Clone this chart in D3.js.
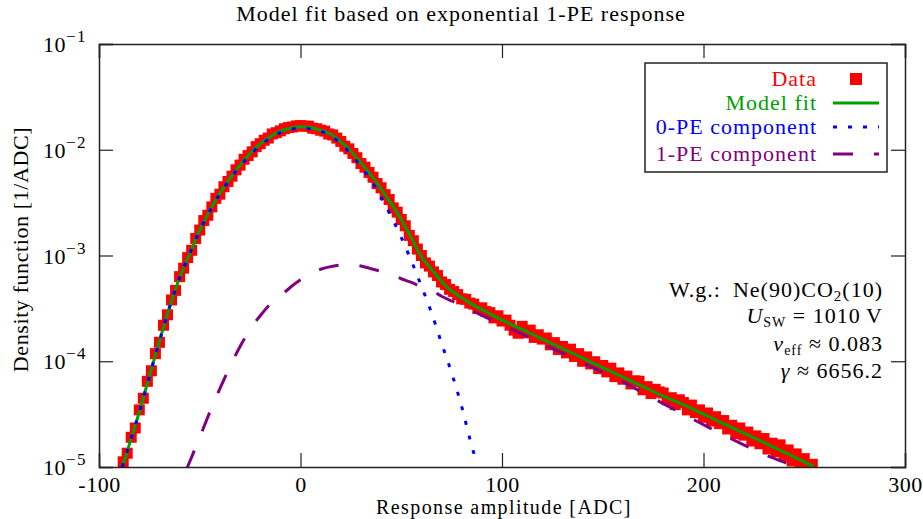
<!DOCTYPE html>
<html>
<head>
<meta charset="utf-8">
<script src="https://cdn.jsdelivr.net/npm/d3@7"></script>
<style>
  body { margin: 0; background: #fff; }
  text { font-family: "Liberation Serif", "Times New Roman", serif; fill: #000; }
</style>
</head>
<body>
<div id="chart"></div>
<script>
// measured data, bins every 2 ADC
var dataX = [-88,-86,-84,-82,-80,-78,-76,-74,-72,-70,-68,-66,-64,-62,-60,-58,-56,-54,-52,-50,
  -48,-46,-44,-42,-40,-38,-36,-34,-32,-30,-28,-26,-24,-22,-20,-18,-16,-14,-12,-10,
  -8,-6,-4,-2,0,2,4,6,8,10,12,14,16,18,20,22,24,26,28,30,
  32,34,36,38,40,42,44,46,48,50,52,54,56,58,60,62,64,66,68,70,
  72,74,76,78,80,82,84,86,88,90,92,94,96,98,100,102,104,106,108,110,
  112,114,116,118,120,122,124,126,128,130,132,134,136,138,140,142,144,146,148,150,
  152,154,156,158,160,162,164,166,168,170,172,174,176,178,180,182,184,186,188,190,
  192,194,196,198,200,202,204,206,208,210,212,214,216,218,220,222,224,226,228,230,
  232,234,236,238,240,242,244,246,248,250,252,254];
var dataY = [1.12e-5,1.35e-5,1.91e-5,2.34e-5,3.47e-5,4.47e-5,6.46e-5,8.13e-5,1.18e-4,1.51e-4,
  2.19e-4,2.75e-4,3.80e-4,4.68e-4,6.31e-4,7.59e-4,9.55e-4,1.12e-3,1.45e-3,1.74e-3,
  2.14e-3,2.40e-3,2.88e-3,3.47e-3,3.80e-3,4.47e-3,5.01e-3,5.62e-3,6.46e-3,7.16e-3,
  8.13e-3,8.81e-3,9.55e-3,1.07e-2,1.14e-2,1.23e-2,1.29e-2,1.41e-2,1.45e-2,1.51e-2,
  1.58e-2,1.62e-2,1.64e-2,1.68e-2,1.69e-2,1.67e-2,1.67e-2,1.60e-2,1.58e-2,1.53e-2,
  1.50e-2,1.41e-2,1.38e-2,1.29e-2,1.20e-2,1.08e-2,1.02e-2,9.23e-3,8.41e-3,7.41e-3,
  6.84e-3,6.10e-3,5.50e-3,4.79e-3,4.37e-3,3.76e-3,3.39e-3,2.82e-3,2.57e-3,2.19e-3,
  1.91e-3,1.55e-3,1.38e-3,1.15e-3,1.00e-3,8.51e-4,7.94e-4,7.00e-4,6.46e-4,5.62e-4,
  5.31e-4,4.79e-4,4.57e-4,4.27e-4,3.89e-4,3.85e-4,3.55e-4,3.47e-4,3.16e-4,3.20e-4,
  2.95e-4,2.88e-4,2.57e-4,2.69e-4,2.40e-4,2.45e-4,2.19e-4,1.97e-4,1.84e-4,2.14e-4,
  1.86e-4,1.97e-4,1.68e-4,1.78e-4,1.62e-4,1.66e-4,1.43e-4,1.50e-4,1.29e-4,1.38e-4,
  1.20e-4,1.30e-4,1.11e-4,1.18e-4,1.00e-4,1.10e-4,9.44e-5,9.89e-5,8.51e-5,9.12e-5,
  7.94e-5,8.61e-5,7.16e-5,7.76e-5,6.76e-5,7.24e-5,6.10e-5,6.53e-5,6.46e-5,5.37e-5,
  5.75e-5,4.95e-5,5.43e-5,5.13e-5,5.01e-5,4.32e-5,4.52e-5,3.89e-5,4.32e-5,4.07e-5,
  3.47e-5,3.85e-5,3.27e-5,3.47e-5,2.95e-5,3.24e-5,2.72e-5,2.99e-5,2.57e-5,2.75e-5,
  2.29e-5,2.48e-5,2.07e-5,2.34e-5,2.00e-5,2.14e-5,1.76e-5,1.97e-5,1.66e-5,1.86e-5,
  1.48e-5,1.68e-5,1.40e-5,1.62e-5,1.26e-5,1.45e-5,1.14e-5,1.33e-5,1.07e-5,1.20e-5,
  1.02e-5,1.06e-5];

// model fit (total)
var fitX = [-88.5,-85,-80,-75,-70,-65,-60,-55,-50,-45,-40,-35,-30,-25,-20,-15,-10,-5,0,5,
  10,15,20,25,30,35,40,45,50,55,60,65,70,75,80,85,90,95,100,110,
  120,130,140,150,160,170,180,190,200,210,220,230,240,250,254.5];
var fitY = [1.00e-5,1.62e-5,3.31e-5,7.24e-5,1.55e-4,3.24e-4,6.17e-4,1.035e-3,1.74e-3,2.66e-3,
  3.89e-3,5.37e-3,7.16e-3,9.23e-3,1.135e-2,1.33e-2,1.50e-2,1.60e-2,1.65e-2,1.62e-2,
  1.53e-2,1.40e-2,1.19e-2,9.66e-3,7.50e-3,5.75e-3,4.27e-3,3.09e-3,2.19e-3,1.46e-3,
  9.77e-4,7.41e-4,5.69e-4,4.62e-4,3.98e-4,3.47e-4,3.09e-4,2.75e-4,2.45e-4,2.00e-4,
  1.62e-4,1.32e-4,1.07e-4,8.71e-5,7.08e-5,5.75e-5,4.68e-5,3.89e-5,3.16e-5,2.57e-5,
  2.09e-5,1.70e-5,1.38e-5,1.12e-5,1.02e-5];

// 0-PE component
var pe0X = [-88.5,-85,-80,-75,-70,-65,-60,-55,-50,-45,-40,-35,-30,-25,-20,-15,-10,-5,0,5,
  10,15,20,25,30,35,40,45,50,55,60,65,70,75,80,85,86.5];
var pe0Y = [1.00e-5,1.62e-5,3.31e-5,7.24e-5,1.55e-4,3.24e-4,6.17e-4,1.035e-3,1.72e-3,2.63e-3,
  3.85e-3,5.25e-3,7.00e-3,8.91e-3,1.10e-2,1.29e-2,1.45e-2,1.55e-2,1.60e-2,1.58e-2,
  1.50e-2,1.35e-2,1.135e-2,9.12e-3,6.92e-3,5.13e-3,3.55e-3,2.34e-3,1.48e-3,8.91e-4,
  5.13e-4,2.88e-4,1.48e-4,7.76e-5,3.72e-5,1.58e-5,1.26e-5];

// 1-PE component
var pe1X = [-56.5,-55,-50,-45,-40,-35,-30,-25,-20,-15,-10,-5,0,5,10,15,20,25,30,35,
  40,45,50,55,60,65,70,75,80,85,90,100,110,120,130,140,150,160,170,180,
  190,200,210,220,230,240,250];
var pe1Y = [9.55e-6,1.12e-5,1.91e-5,3.31e-5,5.50e-5,8.91e-5,1.38e-4,2.00e-4,2.69e-4,3.47e-4,
  4.12e-4,5.01e-4,5.89e-4,6.76e-4,7.41e-4,7.85e-4,8.13e-4,8.17e-4,7.94e-4,7.50e-4,
  7.08e-4,6.61e-4,6.03e-4,5.56e-4,5.07e-4,4.68e-4,4.12e-4,3.72e-4,3.39e-4,3.02e-4,
  2.72e-4,2.21e-4,1.80e-4,1.46e-4,1.19e-4,9.66e-5,7.85e-5,6.38e-5,5.01e-5,3.98e-5,
  3.16e-5,2.51e-5,2.00e-5,1.62e-5,1.32e-5,1.11e-5,9.33e-6];

var xTicks = [-100, 0, 100, 200, 300];
var yTickExp = [-5, -4, -3, -2, -1];
var legendLabels = ["Data", "Model fit", "0-PE component", "1-PE component"];
var colors = ["#ff0000", "#00a000", "#0000ff", "#800080"];

var margin = {top: 44, right: 18, bottom: 52, left: 99},
    width = 923 - margin.left - margin.right,
    height = 519 - margin.top - margin.bottom;

var svg = d3.select("#chart").append("svg")
    .attr("width", 923)
    .attr("height", 519)
  .append("g")
    .attr("transform", "translate(" + margin.left + "," + margin.top + ")");

var x = d3.scaleLinear().domain([-100, 300]).range([0, width]);
var y = d3.scaleLog().domain([1e-5, 1e-1]).range([height, 0]);

svg.append("clipPath").attr("id", "clip")
  .append("rect").attr("width", width).attr("height", height);

var plot = svg.append("g").attr("clip-path", "url(#clip)");

function pairs(xs, ys) {
  return xs.map(function(v, i) { return [v, ys[i]]; });
}

var line = d3.line()
  .x(function(d) { return x(d[0]); })
  .y(function(d) { return y(d[1]); })
  .curve(d3.curveMonotoneX);

var sq = 11;
plot.selectAll("rect.pt")
  .data(pairs(dataX, dataY))
  .enter().append("rect")
    .attr("class", "pt")
    .attr("x", function(d) { return x(d[0]) - sq / 2; })
    .attr("y", function(d) { return y(d[1]) - sq / 2; })
    .attr("width", sq)
    .attr("height", sq)
    .attr("fill", colors[0]);

plot.append("path")
  .datum(pairs(fitX, fitY))
  .attr("d", line)
  .attr("fill", "none")
  .attr("stroke", colors[1])
  .attr("stroke-width", 3);

plot.append("path")
  .datum(pairs(pe0X, pe0Y))
  .attr("d", line)
  .attr("fill", "none")
  .attr("stroke", colors[2])
  .attr("stroke-width", 3)
  .attr("stroke-dasharray", "4,11");

plot.append("path")
  .datum(pairs(pe1X, pe1Y))
  .attr("d", line)
  .attr("fill", "none")
  .attr("stroke", colors[3])
  .attr("stroke-width", 3)
  .attr("stroke-dasharray", "20,21");

// frame and inward ticks on all sides
var yTicks = yTickExp.map(function(e) { return Math.pow(10, e); });

svg.append("g")
  .attr("transform", "translate(0," + height + ")")
  .call(d3.axisBottom(x).tickValues(xTicks).tickSize(-14).tickPadding(9))
  .call(function(g) {
    g.selectAll("text").attr("font-size", 22).attr("letter-spacing", 0.5)
      .text(function(d) { return d < 0 ? "-" + Math.abs(d) : d; });
  });
svg.append("g")
  .call(d3.axisTop(x).tickValues(xTicks).tickSize(-14).tickFormat(""));
svg.append("g")
  .call(d3.axisLeft(y).tickValues(yTicks).tickSize(-14).tickFormat(""));
svg.append("g")
  .attr("transform", "translate(" + width + ",0)")
  .call(d3.axisRight(y).tickValues(yTicks).tickSize(-14).tickFormat(""));

svg.selectAll(".domain").attr("stroke", "#222").attr("stroke-width", 1.5);
svg.selectAll(".tick line").attr("stroke", "#222").attr("stroke-width", 1.2);

var yLab = svg.append("g").selectAll("text")
  .data(yTickExp)
  .enter().append("text")
    .attr("x", -12)
    .attr("y", function(e) { return y(Math.pow(10, e)) + 8; })
    .attr("text-anchor", "end")
    .attr("font-size", 22);
yLab.append("tspan").attr("letter-spacing", 0.5).text("10");
yLab.append("tspan").attr("dy", -10).attr("font-size", 17).attr("letter-spacing", 1.5)
  .text(function(e) { return "\u2212" + Math.abs(e); });

// titles
svg.append("text")
  .attr("x", width / 2 - 41)
  .attr("y", -23)
  .attr("text-anchor", "middle")
  .attr("font-size", 22)
  .attr("letter-spacing", 1)
  .text("Model fit based on exponential 1-PE response");

svg.append("text")
  .attr("x", width / 2 + 2)
  .attr("y", height + 47)
  .attr("text-anchor", "middle")
  .attr("font-size", 20)
  .attr("letter-spacing", 1.4)
  .text("Response amplitude [ADC]");

svg.append("text")
  .attr("transform", "translate(" + (-margin.left + 28) + "," + (height / 2 - 6) + ") rotate(-90)")
  .attr("text-anchor", "middle")
  .attr("font-size", 22)
  .attr("letter-spacing", 0.6)
  .text("Density function [1/ADC]");

// legend
var lg = svg.append("g").attr("transform", "translate(546,19)");
lg.append("rect")
  .attr("width", 242).attr("height", 109)
  .attr("fill", "#fff").attr("stroke", "#222").attr("stroke-width", 1.5);

var rowY = [16, 40, 64, 91];
legendLabels.forEach(function(name, i) {
  lg.append("text")
    .attr("x", 172).attr("y", rowY[i] + 7)
    .attr("text-anchor", "end")
    .attr("font-size", 22)
    .attr("letter-spacing", 1)
    .style("fill", colors[i])
    .text(name);
});
lg.append("rect").attr("x", 205).attr("y", rowY[0] - 6).attr("width", 12).attr("height", 12)
  .attr("fill", colors[0]);
lg.append("line").attr("x1", 188).attr("x2", 234).attr("y1", rowY[1]).attr("y2", rowY[1])
  .attr("stroke", colors[1]).attr("stroke-width", 3);
lg.append("line").attr("x1", 188).attr("x2", 234).attr("y1", rowY[2]).attr("y2", rowY[2])
  .attr("stroke", colors[2]).attr("stroke-width", 3).attr("stroke-dasharray", "4,11");
lg.append("line").attr("x1", 188).attr("x2", 234).attr("y1", rowY[3]).attr("y2", rowY[3])
  .attr("stroke", colors[3]).attr("stroke-width", 3).attr("stroke-dasharray", "20,21");

// annotation
var ann = svg.append("g").attr("font-size", 22).attr("text-anchor", "end")
  .attr("letter-spacing", 1);
var a1 = ann.append("text").attr("x", 784).attr("y", 253);
a1.append("tspan").text("W.g.:\u2002Ne(90)CO");
a1.append("tspan").attr("dy", 4).attr("font-size", 15).text("2");
a1.append("tspan").attr("dy", -4).text("(10)");

var a2 = ann.append("text").attr("x", 784).attr("y", 279);
a2.append("tspan").attr("font-style", "italic").text("U");
a2.append("tspan").attr("dy", 4).attr("font-size", 14).text("SW");
a2.append("tspan").attr("dy", -4).text(" = 1010\u2009V");

var a3 = ann.append("text").attr("x", 784).attr("y", 307);
a3.append("tspan").attr("font-style", "italic").text("\u03bd");
a3.append("tspan").attr("dy", 4).attr("font-size", 14).text("eff");
a3.append("tspan").attr("dy", -4).text(" \u2248 0.083");

var a4 = ann.append("text").attr("x", 784).attr("y", 334);
a4.append("tspan").attr("font-style", "italic").text("\u03b3");
a4.append("tspan").text(" \u2248 6656.2");
</script>
</body>
</html>
